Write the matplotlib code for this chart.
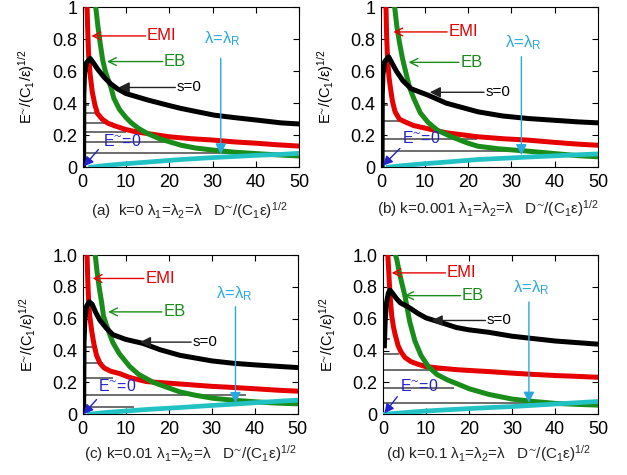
import matplotlib
matplotlib.use("Agg")
import matplotlib.pyplot as plt

plt.rcParams['font.family'] = ['Liberation Sans', 'DejaVu Sans']
plt.rcParams['mathtext.fontset'] = 'custom'
plt.rcParams['mathtext.rm'] = 'Liberation Sans'
plt.rcParams['mathtext.it'] = 'Liberation Sans'
plt.rcParams['mathtext.bf'] = 'Liberation Sans:bold'

# ---- data ----
# panel (a) k=0
a_black_x = [0.2, 0.25, 0.4, 0.8, 1.7, 2.5, 3.5, 5, 6.5, 8, 10, 15, 20, 22.7, 30.4, 35, 40, 45.8, 50]
a_black_y = [0.0, 0.45, 0.58, 0.65, 0.68, 0.65, 0.61, 0.56, 0.52, 0.49, 0.46, 0.42, 0.385, 0.367, 0.325, 0.31, 0.295, 0.277, 0.27]
a_red_x = [1.0, 1.15, 1.35, 1.7, 2.2, 2.8, 3.4, 4.5, 5.8, 7.2, 10, 12.5, 15, 20, 25, 30.4, 35, 40, 45, 50]
a_red_y = [1.0, 0.85, 0.7, 0.58, 0.47, 0.39, 0.335, 0.3, 0.275, 0.26, 0.235, 0.22, 0.21, 0.19, 0.178, 0.169, 0.158, 0.15, 0.14, 0.132]
a_green_x = [3.0, 3.5, 4.0, 4.6, 5.3, 6.5, 7.2, 8.5, 10, 11.1, 13, 15, 18, 22.7, 26, 30.4, 35, 40, 45, 50]
a_green_y = [1.0, 0.88, 0.78, 0.67, 0.59, 0.5, 0.43, 0.36, 0.31, 0.28, 0.24, 0.21, 0.175, 0.1375, 0.12, 0.106, 0.094, 0.085, 0.077, 0.07]
a_cyan_x = [1.85, 5, 10, 15, 22.7, 30, 35, 40, 45.8, 50]
a_cyan_y = [0.0, 0.01, 0.022, 0.032, 0.048, 0.06, 0.067, 0.074, 0.08, 0.087]
a_grid_y = [0.39, 0.34, 0.275, 0.22, 0.157, 0.087]
a_grid_end = [1.5, 3.7, 7, 10, 20, 37]

# panel (b) k=0.001
b_black_x = [0.2, 0.25, 0.4, 0.8, 1.7, 2.5, 3.5, 5, 6.9, 10.8, 15, 22.3, 28, 33.9, 40, 45.4, 50]
b_black_y = [0.0, 0.45, 0.58, 0.66, 0.69, 0.65, 0.6, 0.54, 0.49, 0.45, 0.4, 0.346, 0.32, 0.304, 0.293, 0.283, 0.277]
b_red_x = [1.1, 1.25, 1.45, 1.8, 2.1, 2.6, 3.2, 4.2, 5.5, 7.5, 10.8, 15, 22.3, 28, 33.9, 40, 45.4, 50]
b_red_y = [1.0, 0.82, 0.68, 0.56, 0.5, 0.41, 0.346, 0.3, 0.283, 0.26, 0.24, 0.215, 0.19, 0.178, 0.169, 0.155, 0.144, 0.137]
b_green_x = [3.1, 3.6, 4.2, 4.9, 5.6, 6.5, 7.5, 9, 10.8, 13, 16.2, 20, 22.3, 27, 33.9, 40, 45.4, 50]
b_green_y = [1.0, 0.88, 0.78, 0.68, 0.6, 0.5, 0.43, 0.34, 0.28, 0.23, 0.19, 0.15, 0.131, 0.115, 0.1, 0.085, 0.072, 0.065]
b_cyan_x = [1.6, 5, 10, 15, 22.3, 30, 35, 40, 45.4, 50]
b_cyan_y = [0.0, 0.01, 0.022, 0.032, 0.048, 0.058, 0.065, 0.071, 0.078, 0.083]
b_grid_y = [0.39, 0.29, 0.175, 0.1]
b_grid_end = [1.6, 5.8, 22, 35.5]

# panel (c) k=0.01
c_black_x = [0.2, 0.3, 0.5, 0.9, 1.5, 2.2, 3, 4, 5.5, 7, 10, 14, 18, 22.6, 30, 35, 40, 45.8, 50]
c_black_y = [0.03, 0.45, 0.6, 0.68, 0.707, 0.69, 0.64, 0.59, 0.54, 0.5, 0.47, 0.445, 0.405, 0.37, 0.335, 0.32, 0.31, 0.3, 0.293]
c_red_x = [1.0, 1.15, 1.35, 1.6, 2.1, 2.6, 3.2, 4, 5, 6.5, 8.6, 11, 14.8, 20, 25, 30, 35, 40, 45.8, 50]
c_red_y = [1.0, 0.85, 0.72, 0.62, 0.52, 0.44, 0.37, 0.32, 0.29, 0.27, 0.255, 0.23, 0.205, 0.195, 0.185, 0.175, 0.168, 0.16, 0.15, 0.145]
c_green_x = [2.9, 3.3, 3.8, 4.4, 4.8, 5.5, 6.3, 7, 8.5, 10.9, 13, 16.4, 20, 22.6, 26, 30.3, 35, 40, 45, 50]
c_green_y = [1.0, 0.9, 0.8, 0.7, 0.62, 0.56, 0.5, 0.45, 0.38, 0.3, 0.25, 0.2, 0.165, 0.14, 0.12, 0.1, 0.088, 0.078, 0.07, 0.065]
c_cyan_x = [1.6, 5, 10, 15, 22.6, 30, 35, 40, 45.8, 50]
c_cyan_y = [0.0, 0.01, 0.02, 0.03, 0.042, 0.055, 0.063, 0.072, 0.082, 0.088]
c_grid_y = [0.51, 0.42, 0.32, 0.23, 0.12, 0.047]
c_grid_end = [1.0, 2.5, 4.6, 7, 38, 12]

# panel (d) k=0.1
d_black_x = [0.3, 0.5, 0.8, 1.2, 1.6, 2.2, 3, 4, 5.9, 8, 10, 13.6, 17, 20, 24.5, 30, 35, 40, 45, 50]
d_black_y = [0.43, 0.6, 0.7, 0.76, 0.78, 0.76, 0.73, 0.7, 0.673, 0.635, 0.605, 0.575, 0.545, 0.53, 0.515, 0.49, 0.475, 0.46, 0.45, 0.44]
d_red_x = [1.1, 1.25, 1.4, 1.6, 2.0, 2.4, 2.8, 3.5, 4.2, 5.1, 6.5, 8, 9.8, 13, 17, 20, 24.5, 30, 35, 40, 45, 50]
d_red_y = [1.0, 0.93, 0.85, 0.75, 0.62, 0.55, 0.5, 0.43, 0.39, 0.356, 0.33, 0.315, 0.3, 0.29, 0.28, 0.275, 0.268, 0.258, 0.25, 0.243, 0.238, 0.232]
d_green_x = [2.9, 3.2, 3.7, 4.3, 5.1, 6.2, 7.4, 8.8, 10.5, 12.5, 15, 17.5, 20, 24.5, 30, 35, 40, 45, 50]
d_green_y = [1.0, 0.97, 0.9, 0.83, 0.74, 0.58, 0.46, 0.37, 0.3, 0.25, 0.215, 0.188, 0.16, 0.125, 0.095, 0.08, 0.068, 0.062, 0.057]
d_cyan_x = [0.5, 5, 10, 15, 20, 25, 30, 35, 40, 45, 50]
d_cyan_y = [0.0, 0.01, 0.02, 0.028, 0.035, 0.042, 0.048, 0.056, 0.064, 0.072, 0.08]
d_grid_y = [0.47, 0.38, 0.275, 0.162, 0.07]
d_grid_end = [1.7, 3.6, 17, 16.4, 33.8]

k_values = ['0', '0.001', '0.01', '0.1']
panel_tags = ['(a)  ', '(b) ', '(c) ', '(d) ']
ytick_labels_top = ['0', '0.2', '0.4', '0.6', '0.8', '1']
ytick_labels_bottom = ['0', '0.2', '0.4', '0.6', '0.8', '1.0']

RED = '#e60000'
GREEN = '#1a8c1a'
CYAN = '#22c2c4'
SKY = '#2aa8e0'
BLUE = '#2222d0'
TILDE = '$^{\u223c}$'

panels = [
    dict(black=(a_black_x, a_black_y), red=(a_red_x, a_red_y), green=(a_green_x, a_green_y),
         cyan=(a_cyan_x, a_cyan_y), grid=(a_grid_y, a_grid_end), yt=ytick_labels_top,
         pos=[0.132, 0.648, 0.345, 0.337], cap=(0.49, -0.30),
         emi=(14.8, 0.82, 2.0), eb=(18.8, 0.66, 5.6), s0=(21.7, 0.498, 8.3),
         lam=(32.2, 0.80, 31.9, 0.68, 0.08), e0=(4.6, 0.165, 3.6, 0.11, 0.25, 0.005)),
    dict(black=(b_black_x, b_black_y), red=(b_red_x, b_red_y), green=(b_green_x, b_green_y),
         cyan=(b_cyan_x, b_cyan_y), grid=(b_grid_y, b_grid_end), yt=ytick_labels_top,
         pos=[0.608, 0.648, 0.346, 0.337], cap=(0.49, -0.29),
         emi=(15.5, 0.845, 2.8), eb=(18.2, 0.655, 6.3), s0=(24.0, 0.468, 11.2),
         lam=(32.8, 0.78, 32.3, 0.69, 0.075), e0=(4.8, 0.18, 4.3, 0.117, 0.4, 0.01)),
    dict(black=(c_black_x, c_black_y), red=(c_red_x, c_red_y), green=(c_green_x, c_green_y),
         cyan=(c_cyan_x, c_cyan_y), grid=(c_grid_y, c_grid_end), yt=ytick_labels_bottom,
         pos=[0.132, 0.128, 0.343, 0.335], cap=(0.50, -0.277),
         emi=(14.5, 0.853, 2.3), eb=(18.7, 0.643, 5.9), s0=(25.5, 0.453, 13.3),
         lam=(35.1, 0.755, 35.5, 0.675, 0.07), e0=(3.6, 0.178, 3.2, 0.092, 0.2, 0.0)),
    dict(black=(d_black_x, d_black_y), red=(d_red_x, d_red_y), green=(d_green_x, d_green_y),
         cyan=(d_cyan_x, d_cyan_y), grid=(d_grid_y, d_grid_end), yt=ytick_labels_bottom,
         pos=[0.611, 0.128, 0.343, 0.335], cap=(0.49, -0.277),
         emi=(14.8, 0.888, 2.0), eb=(18.3, 0.745, 4.9), s0=(24.1, 0.589, 11.3),
         lam=(34.4, 0.795, 33.9, 0.705, 0.072), e0=(4.0, 0.177, 3.3, 0.11, 0.3, 0.005)),
]

fig = plt.figure(figsize=(6.27, 4.75), dpi=100)

for i, p in enumerate(panels):
    ax = fig.add_axes(p['pos'])
    # stray horizontal lines from the original rendering
    ax.hlines(p['grid'][0], 0, p['grid'][1], color='#555555', lw=1.2, zorder=1)
    ax.plot(*p['red'], color=RED, lw=3.6, zorder=3)
    ax.plot(*p['green'], color=GREEN, lw=3.6, zorder=4)
    ax.plot(*p['black'], color='black', lw=3.6, zorder=5)
    ax.plot(*p['cyan'], color=CYAN, lw=3.4, zorder=6)

    ax.set_xlim(0, 50)
    ax.set_ylim(0, 1)
    ax.set_xticks([0, 10, 20, 30, 40, 50])
    ax.set_yticks([0, 0.2, 0.4, 0.6, 0.8, 1.0])
    ax.set_yticklabels(p['yt'])
    ax.tick_params(direction='in', top=True, right=True, length=4, labelsize=13)
    ax.tick_params(axis='x', pad=5)
    ax.tick_params(axis='y', pad=4)

    ax.set_ylabel('E' + TILDE + r'/(C$_1$/ε)$^{1/2}$', fontsize=10.5)
    ax.yaxis.set_label_coords(-0.21, 0.5)

    cap = (panel_tags[i] + 'k=' + k_values[i] +
           r' $\lambda_1$=$\lambda_2$=$\lambda$   D' + TILDE + r'/(C$_1$ε)$^{1/2}$')
    ax.text(p['cap'][0], p['cap'][1], cap, transform=ax.transAxes, ha='center',
            va='baseline', fontsize=11, color='#222222')

    # EMI
    tx, ty, tip = p['emi']
    ax.text(tx, ty, 'EMI', color=RED, fontsize=12, ha='left', va='center', zorder=8)
    ax.annotate('', xy=(tip, ty), xytext=(tx - 0.3, ty), zorder=8,
                arrowprops=dict(arrowstyle='->', color=RED, lw=1, mutation_scale=14,
                                shrinkA=0, shrinkB=0))
    # EB
    tx, ty, tip = p['eb']
    ax.text(tx, ty, 'EB', color=GREEN, fontsize=12, ha='left', va='center', zorder=8)
    ax.annotate('', xy=(tip, ty), xytext=(tx - 0.3, ty), zorder=8,
                arrowprops=dict(arrowstyle='->', color=GREEN, lw=1, mutation_scale=14,
                                shrinkA=0, shrinkB=0))
    # s=0
    tx, ty, tip = p['s0']
    ax.text(tx, ty, 's=0', color='black', fontsize=11, ha='left', va='center', zorder=8)
    ax.annotate('', xy=(tip, ty), xytext=(tx - 0.3, ty), zorder=8,
                arrowprops=dict(arrowstyle='-|>', color='#222222', lw=1, mutation_scale=16,
                                shrinkA=0, shrinkB=0))
    # lambda = lambda_R
    tx, ty, ax_x, y0, y1 = p['lam']
    ax.text(tx, ty, r'$\lambda$=$\lambda_R$', color=SKY, fontsize=12, ha='center',
            va='center', zorder=8)
    ax.annotate('', xy=(ax_x, y1), xytext=(ax_x, y0), zorder=8,
                arrowprops=dict(arrowstyle='-|>', color=SKY, lw=1, mutation_scale=16,
                                shrinkA=0, shrinkB=0))
    # E~=0
    tx, ty, sx, sy, ex, ey = p['e0']
    ax.text(tx, ty, 'E' + TILDE + '=0', color=BLUE, fontsize=11.5, ha='left', va='center',
            zorder=8)
    ax.annotate('', xy=(ex, ey), xytext=(sx, sy), zorder=8,
                arrowprops=dict(arrowstyle='-|>', color=BLUE, lw=1, mutation_scale=14,
                                shrinkA=0, shrinkB=0))

fig.savefig('out.png', dpi=100)
